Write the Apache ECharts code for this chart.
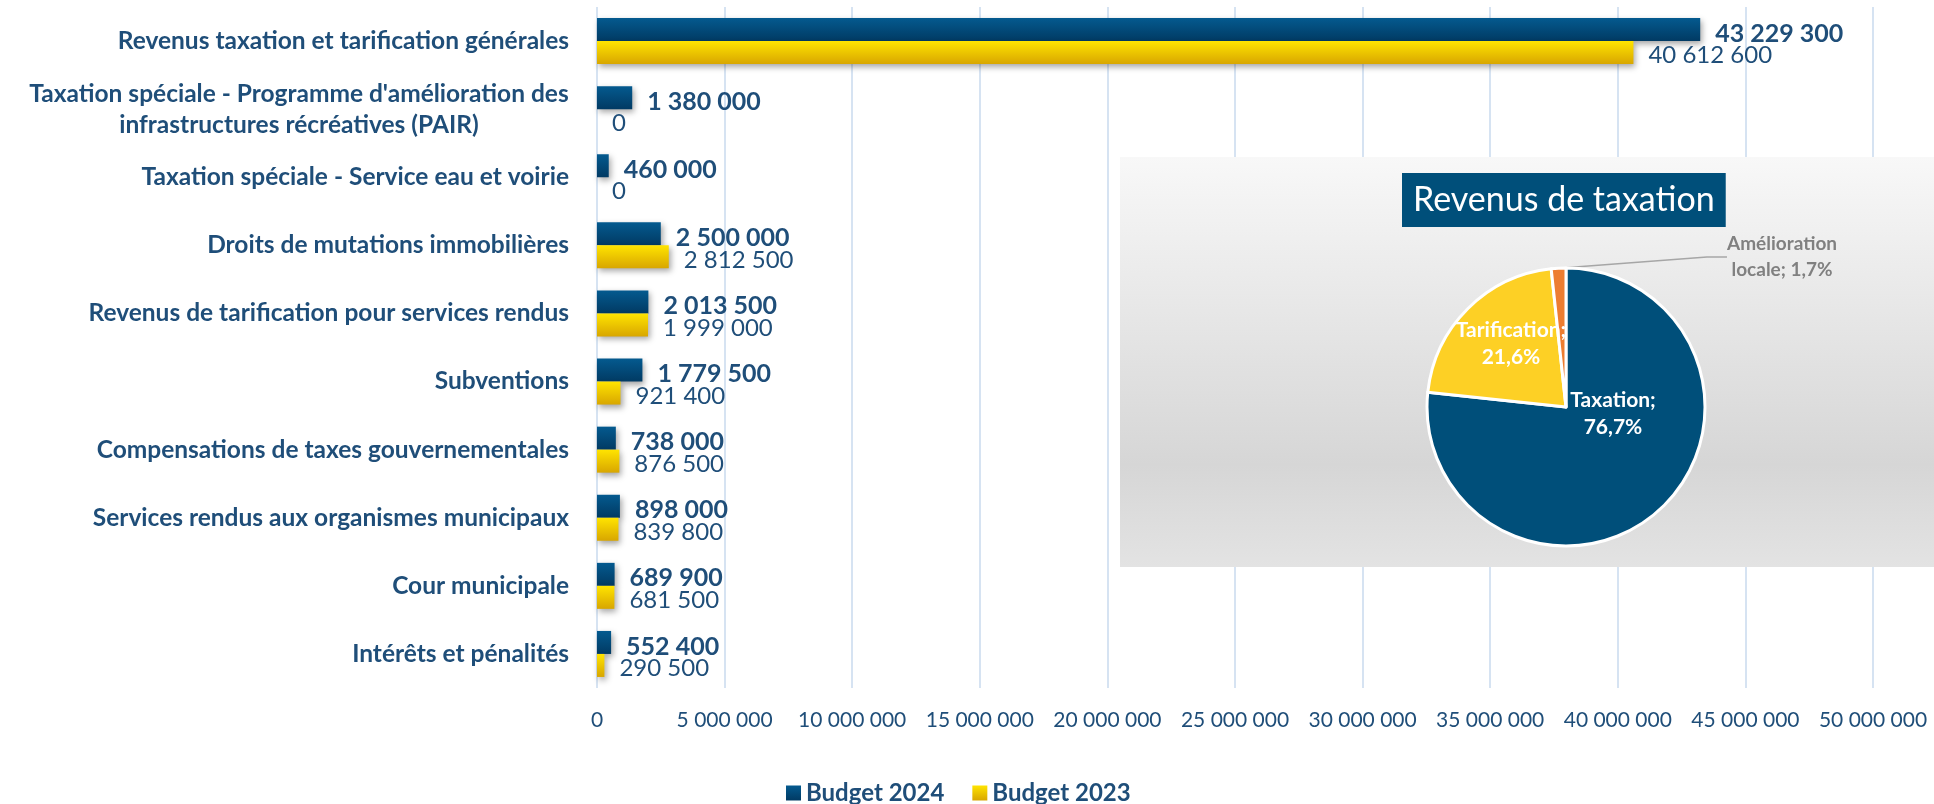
<!DOCTYPE html>
<html>
<head>
<meta charset="utf-8">
<script src="https://cdn.jsdelivr.net/npm/echarts@6/dist/echarts.min.js"></script>
<style>
  html, body { margin: 0; padding: 0; background: #fff; }
  #chart { width: 1934px; height: 804px; }
</style>
</head>
<body>
<div id="chart"></div>
<script>
// catégories de revenus (du haut vers le bas)
const categories = [
    'Revenus taxation et tarification générales',
    "Taxation spéciale - Programme d'amélioration des\ninfrastructures récréatives (PAIR)",
    'Taxation spéciale - Service eau et voirie',
    'Droits de mutations immobilières',
    'Revenus de tarification pour services rendus',
    'Subventions',
    'Compensations de taxes gouvernementales',
    'Services rendus aux organismes municipaux',
    'Cour municipale',
    'Intérêts et pénalités'
];
const budget2024 = [43229300, 1380000, 460000, 2500000, 2013500, 1779500, 738000, 898000, 689900, 552400];
const budget2023 = [40612600, 0, 0, 2812500, 1999000, 921400, 876500, 839800, 681500, 290500];

// petit graphique circulaire
const pieNames = ['Taxation', 'Tarification', 'Amélioration locale'];
const pieValues = [76.7, 21.6, 1.7];
const pieColors = ['#004f7a', '#fdd025', '#ed7d31'];

const FONT = 'Lato';
const TXT = '#1f4e79';

// 43229300 -> "43 229 300"
function fmt(v) {
    return String(v).replace(/\B(?=(\d{3})+(?!\d))/g, ' ');
}

const chart = echarts.init(document.getElementById('chart'));

chart.setOption({
    animation: false,
    textStyle: { fontFamily: FONT },
    title: {
        text: 'Revenus de taxation',
        left: 1402,
        top: 173,
        padding: [9, 11],
        backgroundColor: '#004f7a',
        textStyle: { color: '#fff', fontSize: 34, lineHeight: 36, fontWeight: 'normal', fontFamily: FONT },
        z: 6
    },
    graphic: [
        {
            type: 'rect',
            z: 1,
            shape: { x: 1120, y: 157, width: 814, height: 410 },
            style: {
                fill: new echarts.graphic.LinearGradient(0, 0, 0, 1, [
                    { offset: 0, color: '#f8f8f8' },
                    { offset: 0.75, color: '#d6d6d6' },
                    { offset: 1, color: '#e3e3e3' }
                ])
            }
        }
    ],
    legend: {
        data: ['Budget 2024', 'Budget 2023'],
        left: 781,
        top: 776,
        icon: 'rect',
        itemWidth: 15,
        itemHeight: 15,
        itemGap: 28,
        textStyle: { color: TXT, fontSize: 24, fontWeight: 'bold', fontFamily: FONT }
    },
    grid: {
        left: 597,
        right: 61,
        top: 7,
        bottom: 116,
        containLabel: false,
        outerBoundsMode: 'none'
    },
    xAxis: {
        type: 'value',
        min: 0,
        max: 50000000,
        interval: 5000000,
        axisLine: { show: false },
        axisTick: { show: false },
        splitLine: { lineStyle: { color: '#d6e3f2', width: 2 } },
        axisLabel: {
            margin: 22,
            color: TXT,
            fontSize: 21,
            fontFamily: FONT,
            formatter: fmt
        }
    },
    yAxis: {
        type: 'category',
        inverse: true,
        data: categories,
        axisLine: { show: false },
        axisTick: { show: false },
        axisLabel: {
            margin: 28,
            color: TXT,
            fontSize: 24.5,
            fontWeight: 'bold',
            fontFamily: FONT,
            lineHeight: 31,
            formatter: function (v) {
                if (v.indexOf('\n') < 0) return v;
                return v.split('\n').map(s => '{c|' + s + '}').join('\n');
            },
            rich: {
                c: {
                    width: 540,
                    align: 'center',
                    color: TXT,
                    fontSize: 24.5,
                    fontWeight: 'bold',
                    fontFamily: FONT,
                    lineHeight: 31
                }
            }
        }
    },
    series: [
        {
            name: 'Budget 2024',
            type: 'bar',
            data: budget2024,
            barWidth: 23,
            barGap: '0%',
            itemStyle: {
                color: new echarts.graphic.LinearGradient(0, 0, 0, 1, [
                    { offset: 0, color: '#045a8f' },
                    { offset: 1, color: '#013a63' }
                ]),
                shadowColor: 'rgba(0,0,0,0.35)',
                shadowBlur: 6,
                shadowOffsetX: 2,
                shadowOffsetY: 3
            },
            label: {
                show: true,
                position: 'right',
                distance: 15,
                offset: [0, 4],
                color: TXT,
                fontSize: 25,
                fontWeight: 'bold',
                fontFamily: FONT,
                formatter: p => fmt(p.value)
            }
        },
        {
            name: 'Budget 2023',
            type: 'bar',
            data: budget2023,
            barWidth: 23,
            barGap: '0%',
            itemStyle: {
                color: new echarts.graphic.LinearGradient(0, 0, 0, 1, [
                    { offset: 0, color: '#ffe400' },
                    { offset: 1, color: '#d8a600' }
                ]),
                shadowColor: 'rgba(0,0,0,0.35)',
                shadowBlur: 6,
                shadowOffsetX: 2,
                shadowOffsetY: 3
            },
            label: {
                show: true,
                position: 'right',
                distance: 15,
                offset: [0, 3],
                color: TXT,
                fontSize: 24,
                fontFamily: FONT,
                formatter: p => fmt(p.value)
            }
        },
        {
            name: 'Revenus de taxation',
            type: 'pie',
            z: 3,
            center: [1566, 407],
            radius: 139,
            startAngle: 90,
            clockwise: true,
            itemStyle: { borderColor: '#fff', borderWidth: 3 },
            label: {
                show: true,
                position: 'inside',
                color: '#fff',
                fontSize: 21,
                fontWeight: 'bold',
                fontFamily: FONT,
                lineHeight: 27,
                formatter: p => p.name + ';\n' + p.value.toFixed(1).replace('.', ',') + '%'
            },
            labelLine: { show: false },
            labelLayout: function (p) {
                if (p.dataIndex === 0) return { x: 1613, y: 414, align: 'center', verticalAlign: 'middle' };
                if (p.dataIndex === 1) return { x: 1511, y: 344, align: 'center', verticalAlign: 'middle' };
                return { x: 1782, y: 257, align: 'center', verticalAlign: 'middle' };
            },
            data: pieNames.map((n, i) => {
                const d = { name: n, value: pieValues[i], itemStyle: { color: pieColors[i] } };
                if (i === 2) {
                    d.label = {
                        position: 'outside',
                        color: '#808080',
                        fontSize: 19,
                        lineHeight: 26,
                        formatter: 'Amélioration\nlocale; 1,7%'
                    };
                    d.labelLine = { show: true, length: 20, length2: 20, lineStyle: { color: '#a6a6a6', width: 1.5 } };
                }
                return d;
            })
        }
    ]
});
</script>
</body>
</html>
